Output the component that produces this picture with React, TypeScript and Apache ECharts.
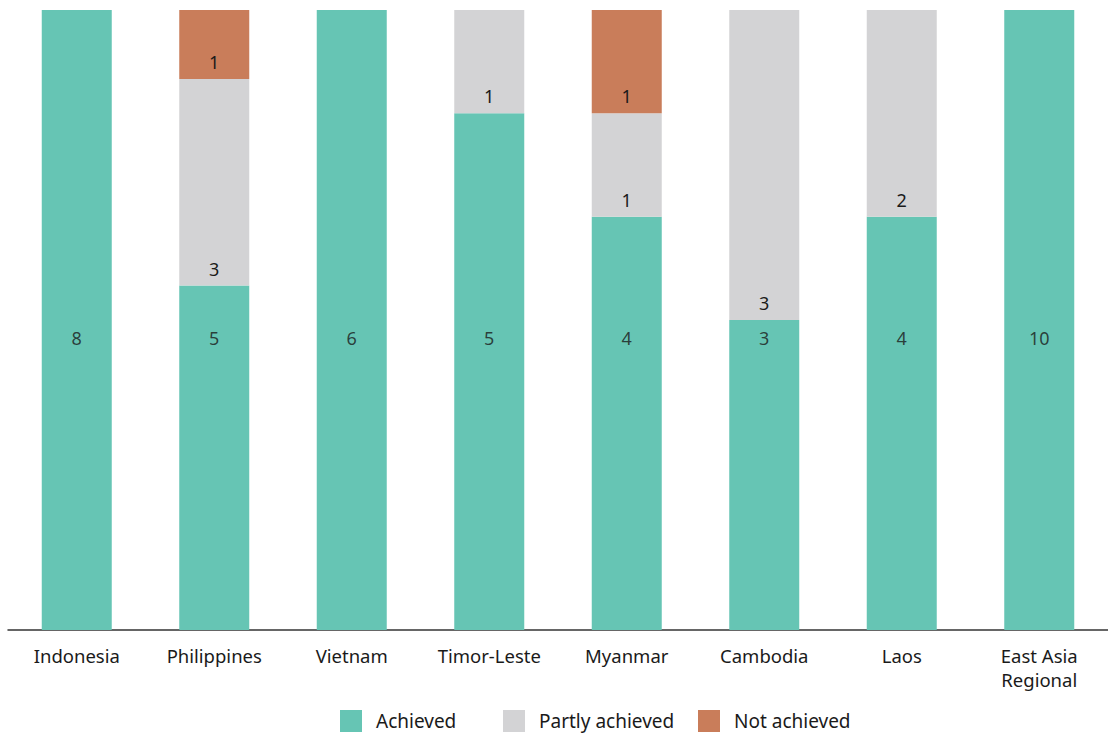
import React, { useEffect, useRef } from "react";
import * as echarts from "echarts";

const categories = ["Indonesia", "Philippines", "Vietnam", "Timor-Leste", "Myanmar", "Cambodia", "Laos", "East Asia\nRegional"];
const achieved = [8, 5, 6, 5, 4, 3, 4, 10];
const partly = [0, 3, 0, 1, 1, 3, 2, 0];
const notAchieved = [0, 1, 0, 0, 1, 0, 0, 0];
const seriesNames = ["Achieved", "Partly achieved", "Not achieved"];
const achievedLabelLevel = 47.1; // % height where the achieved count label sits

const FONT = "'Noto Sans', 'Open Sans', sans-serif";
const TEXT = "#1a1a1a";

export default function App() {
  const ref = useRef<HTMLDivElement>(null);
  useEffect(() => {
    document.body.style.margin = "0";
    const chart = echarts.init(ref.current!, null, { renderer: "svg" });
    const totals = categories.map((_, i) => achieved[i] + partly[i] + notAchieved[i]);
    const pct = (arr: number[]) => arr.map((v, i) => ({ value: (v / totals[i]) * 100, count: v }));
    const labelInsideBottom = {
      show: true,
      position: "insideBottom" as const,
      distance: 8,
      color: TEXT,
      fontSize: 18,
      fontFamily: FONT,
      formatter: (p: any) => (p.data.count ? String(p.data.count) : ""),
    };
    const legendLefts = [335, 498, 693];
    chart.setOption({
      animation: false,
      textStyle: { fontFamily: FONT },
      grid: { left: 8, right: 0, top: 10, bottom: 108 },
      legend: seriesNames.map((n, i) => ({
        bottom: 1,
        left: legendLefts[i],
        icon: "rect",
        itemWidth: 22,
        itemHeight: 22,
        textStyle: { fontSize: 19, color: TEXT, fontFamily: FONT, padding: [0, 0, 0, 9] },
        data: [n],
      })),
      xAxis: {
        type: "category",
        data: categories,
        axisLine: { lineStyle: { color: "#333", width: 1.5 } },
        axisTick: { show: false },
        axisLabel: { fontSize: 18.5, color: TEXT, margin: 13, lineHeight: 24, fontFamily: FONT },
      },
      yAxis: { type: "value", min: 0, max: 100, show: false, splitLine: { show: false } },
      series: [
        {
          name: seriesNames[0],
          type: "bar",
          stack: "s",
          barWidth: 70,
          itemStyle: { color: "#66C5B4" },
          data: pct(achieved),
        },
        {
          name: seriesNames[1],
          type: "bar",
          stack: "s",
          barWidth: 70,
          itemStyle: { color: "#D3D3D5" },
          label: labelInsideBottom,
          data: pct(partly),
        },
        {
          name: seriesNames[2],
          type: "bar",
          stack: "s",
          barWidth: 70,
          itemStyle: { color: "#C97D5A" },
          label: labelInsideBottom,
          data: pct(notAchieved),
        },
        {
          name: "achievedLabels",
          type: "scatter",
          symbolSize: 0,
          silent: true,
          z: 10,
          label: {
            show: true,
            position: "inside",
            color: TEXT,
            fontSize: 18,
            fontFamily: FONT,
            formatter: (p: any) => String(achieved[p.dataIndex]),
          },
          data: categories.map(() => achievedLabelLevel),
        },
      ],
    });
    return () => chart.dispose();
  }, []);
  return <div ref={ref} style={{ width: 1108, height: 738 }} />;
}
